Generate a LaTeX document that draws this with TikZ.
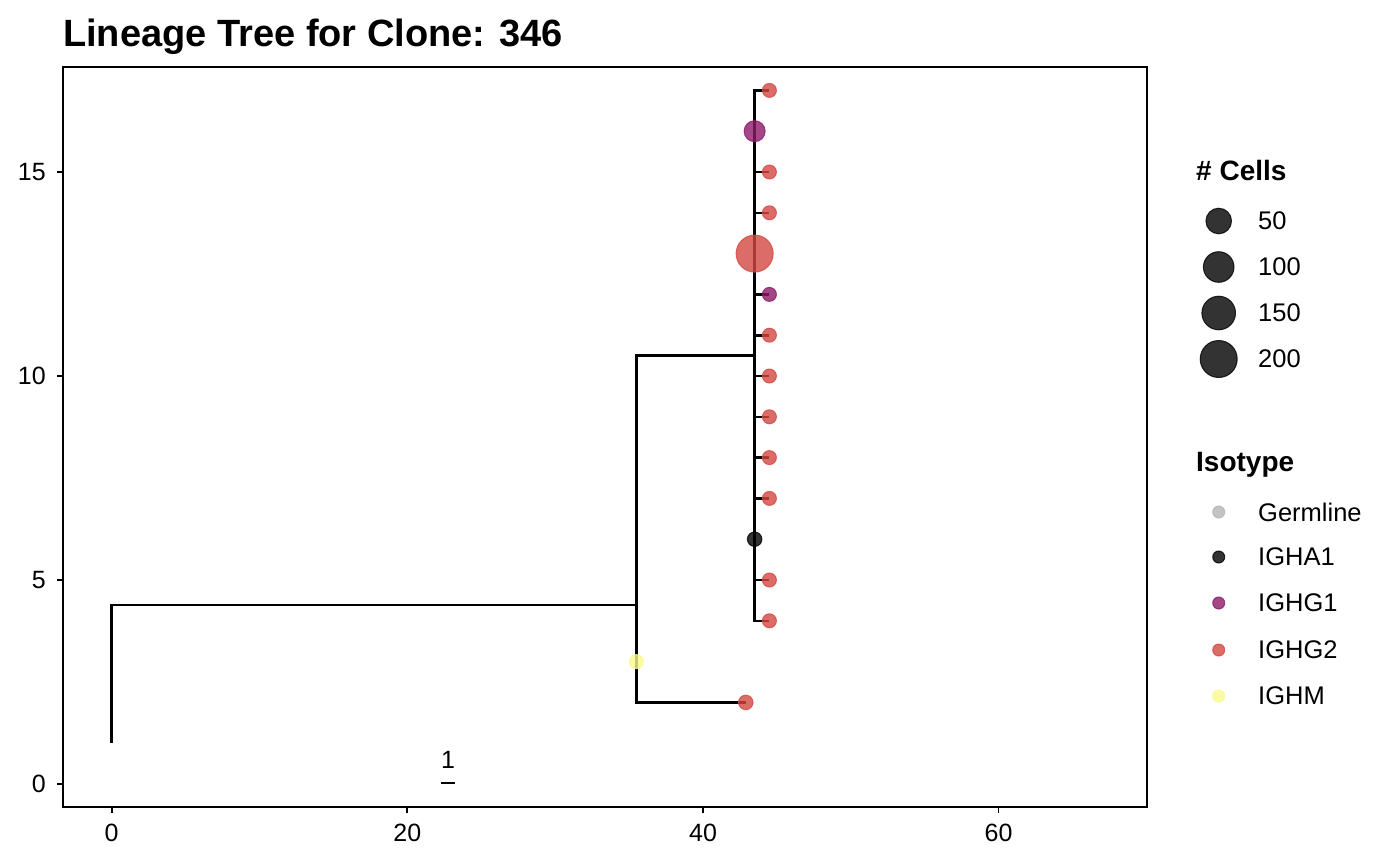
\documentclass[tikz,border=0pt]{standalone}
\usepackage{fontspec}
\setmainfont{Liberation Sans}
\definecolor{cG2}{HTML}{D44842}
\definecolor{cG1}{HTML}{8C1A6A}
\definecolor{cA1}{HTML}{000000}
\definecolor{cM}{HTML}{FAFA8C}
\definecolor{cGL}{HTML}{B4B4B4}
\tikzset{
  branch/.style={line width=2.6pt, line join=miter},
  frame/.style={line width=1.8pt},
  tick/.style={line width=1.8pt},
  pt/.style={circle, inner sep=0pt, minimum size=#1, line width=1pt, fill opacity=0.8, draw opacity=0.8},
  ticklab/.style={inner sep=0pt, font=\fontsize{25}{28}\selectfont},
  leglab/.style={inner sep=0pt, anchor=west, font=\fontsize{25.5}{28}\selectfont},
  legtitle/.style={inner sep=0pt, anchor=base west, font=\fontsize{28}{32}\selectfont\bfseries},
}
\begin{document}
\begin{tikzpicture}[x=1pt,y=-1pt]
\useasboundingbox (0,0) rectangle (1400,865);
\fill[white] (0,0) rectangle (1400,865);
% title
\node[inner sep=0pt, anchor=base west, font=\fontsize{38}{44}\selectfont\bfseries] (title) at (63,46) {Lineage Tree for Clone: 346};
% axis ticks and labels
\foreach \v/\yy in {0/784,5/580,10/376,15/172}{
  \draw[tick] (57,\yy) -- (63,\yy);
  \node[ticklab, anchor=east] (yl\v) at (46,\yy) {\v};
}
\foreach \v/\xx in {0/111.7,20/407.3,40/703,60/998.5}{
  \draw[tick] (\xx,807) -- (\xx,813);
  \node[ticklab] (xl\v) at (\xx,833) {\v};
}
% tree in data coordinates
\begin{scope}[shift={(111.7,784)}, x=14.78pt, y=40.8pt]
  \coordinate (g) at (0,1);
  \coordinate (r) at (0,4.39);
  \coordinate (a) at (35.5,4.39);
  \coordinate (a1) at (35.5,2);
  \coordinate (a2) at (35.5,10.5);
  \coordinate (t2) at (42.9,2);
  \coordinate (b) at (43.5,10.5);
  \coordinate (b1) at (43.5,4);
  \coordinate (b2) at (43.5,17);
  \draw[branch] (g) -- (r) -- (a);
  \draw[branch] (t2) -- (a1) -- (a2) -- (b);
  \draw[branch] (44.5,4) -- (b1) -- (b2) -- (44.5,17);
  \draw[line width=3.2pt] (43.5,6) -- (b2);
  \foreach \k in {5,7,8,9,10,11,12,14,15}{
    \draw[branch] (43.5,\k) -- (44.5,\k);
  }
  % points
  \foreach \k in {4,5,7,8,9,10,11,14,15,17}{
    \node[pt=14pt, fill=cG2, draw=cG2] (p\k) at (44.5,\k) {};
  }
  \node[pt=14pt, fill=cG1, draw=cG1] (p12) at (44.5,12) {};
  \node[pt=21pt, fill=cG1, draw=cG1] (p16) at (43.5,16) {};
  \node[pt=37pt, fill=cG2, draw=cG2] (p13) at (43.5,13) {};
  \node[pt=14.5pt, fill=cA1, draw=cA1] (p6) at (43.5,6) {};
  \node[pt=14pt, fill=cM, draw=cM] (p3) at (35.5,3) {};
  \node[pt=14.5pt, fill=cG2, draw=cG2] (p2) at (42.9,2) {};
\end{scope}
% scale bar
\coordinate (sb1) at (440.7,783);
\coordinate (sb2) at (455.3,783);
\draw[branch] (sb1) -- (sb2);
\node[inner sep=0pt, font=\fontsize{25}{28}\selectfont] (sbl) at (448,760) {1};
% panel border
\draw[frame] (63,67) rectangle (1147,807);
% legend: cells
\node[legtitle] (lt1) at (1196,180) {\# Cells};
\foreach \lab/\yy/\d in {50/221/25.6pt,100/267/30.6pt,150/313/33.6pt,200/359/37pt}{
  \node[pt=\d, fill=black, draw=black] (lc\lab) at (1218.7,\yy) {};
  \node[leglab] (ll\lab) at (1258,\yy) {\lab};
}
% legend: isotype
\node[legtitle] (lt2) at (1196,471) {Isotype};
\foreach \lab/\yy/\c in {Germline/512/cGL,IGHA1/557/cA1,IGHG1/603/cG1,IGHG2/650/cG2,IGHM/696/cM}{
  \node[pt=12pt, fill=\c, draw=\c] (li\lab) at (1218.7,\yy) {};
  \node[leglab] (lil\lab) at (1258,\yy) {\lab};
}
\end{tikzpicture}
\end{document}
